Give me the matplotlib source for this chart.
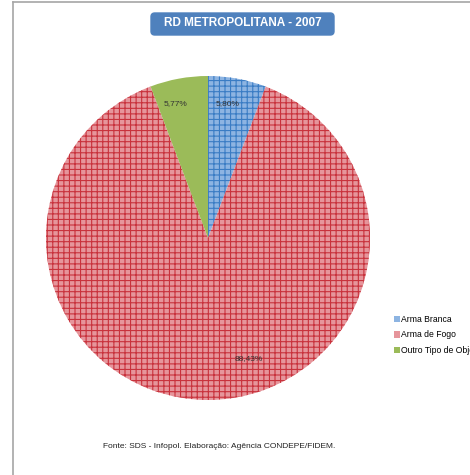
import matplotlib.pyplot as plt
from matplotlib.patches import Patch, FancyBboxPatch

labels = ["Arma Branca", "Arma de Fogo", "Outro Tipo de Objeto"]
values = [5.80, 88.43, 5.77]
colors = ["#8db4e2", "#e6959b", "#9bbb59"]
hatch_colors = ["#3a7cc4", "#c8323c", "#9bbb59"]
# where Excel put the percentage labels (pie radius = 1)
label_pos = [(0.123, 0.827), (0.253, -0.747), (-0.198, 0.827)]

plt.rcParams["font.family"] = ["Liberation Sans", "DejaVu Sans"]
plt.rcParams["hatch.linewidth"] = 0.8

fig = plt.figure(figsize=(4.70, 4.75), dpi=100)

# outer chart border (top + left visible)
fig.add_artist(plt.Line2D([13 / 470, 13 / 470], [0, 1 - 2 / 475], color="#a6a6a6", lw=1.2))
fig.add_artist(plt.Line2D([13 / 470, 1.01], [1 - 2 / 475, 1 - 2 / 475], color="#a6a6a6", lw=1.2))

ax = fig.add_axes([46 / 470, 75 / 475, 324 / 470, 324 / 475])
wedges, texts, autotexts = ax.pie(
    values, colors=colors, startangle=90, counterclock=False,
    autopct=lambda p: f"{p:.2f}%".replace(".", ","),
    textprops=dict(fontsize=6, color="#333333"),
)
for w, hc in zip(wedges, hatch_colors):
    w.set_edgecolor(hc)
    w.set_linewidth(0)
    if hc != colors[2]:
        w.set_hatch("+++")
for t, (x, y) in zip(autotexts, label_pos):
    t.set_position((x, y))
ax.set_xlim(-1, 1)
ax.set_ylim(-1, 1)
ax.set_aspect("equal")

# title box
box = FancyBboxPatch((151 / 470, 1 - 35 / 475), 183 / 470, 22 / 475,
                     boxstyle="round,pad=0,rounding_size=0.008",
                     transform=fig.transFigure, facecolor="#4f81bd",
                     edgecolor="#4f81bd")
fig.add_artist(box)
fig.text(243 / 470, 1 - 23.5 / 475, "RD METROPOLITANA - 2007", ha="center", va="center",
         color="white", fontsize=8.5, fontweight="bold")

handles = [Patch(facecolor=c, edgecolor="none") for c in colors]
fig.legend(handles, labels, loc="upper left", bbox_to_anchor=(394 / 470, 1 - 315 / 475),
           frameon=False, fontsize=6.2, handlelength=0.75, handleheight=0.75,
           handletextpad=0.1, labelspacing=0.75, borderaxespad=0, borderpad=0)

fig.text(219 / 470, 1 - 447 / 475, "Fonte: SDS - Infopol. Elaboração: Agência CONDEPE/FIDEM.",
         ha="center", va="center", fontsize=6, color="#222222")

fig.savefig("out.png", dpi=100, facecolor="white")
